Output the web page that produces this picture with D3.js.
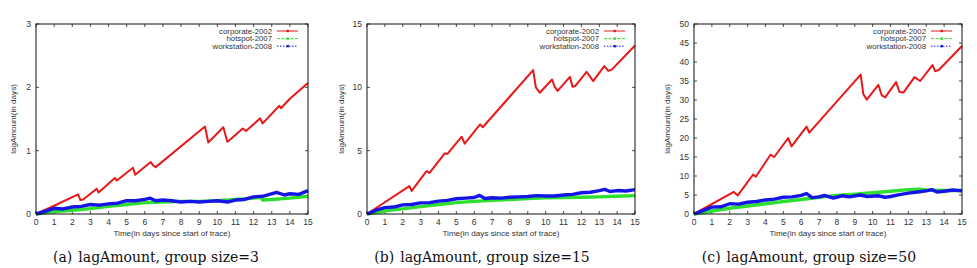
<!DOCTYPE html>
<html>
<head>
  <meta charset="utf-8">
  <script src="https://d3js.org/d3.v7.min.js"></script>
  <style>
    body { margin: 0; background: #fff; }
    svg { display: block; }
    .tick-label { font-family: "Liberation Sans", Arial, sans-serif; font-size: 8.5px; fill: #333; }
    .axis-title { font-family: "Liberation Sans", Arial, sans-serif; font-size: 8.1px; fill: #333; }
    .legend-text { font-family: "Liberation Sans", Arial, sans-serif; font-size: 7.8px; fill: #333; }
    .caption { font-family: "DejaVu Serif", serif; font-size: 14px; fill: #111; }
  </style>
</head>
<body>
  <div id="chart"></div>

  <script>
    // series names (legend order)
    const seriesNames = ["corporate-2002", "hotspot-2007", "workstation-2008"];
    const xTicks = d3.range(0, 16);

    // group size = 3  ([day, lag in days])
    const corp3 = [[0,0],[1,0.13],[2.32,0.31],[2.45,0.22],[2.6,0.23],[3.35,0.40],[3.45,0.34],[4.35,0.57],[4.45,0.53],[4.6,0.56],[5.35,0.73],[5.47,0.62],[6.33,0.82],[6.45,0.77],[6.6,0.74],[9.32,1.38],[9.5,1.13],[10.33,1.37],[10.55,1.14],[10.65,1.16],[11.4,1.35],[11.58,1.31],[12.36,1.51],[12.5,1.43],[13.42,1.71],[13.51,1.67],[14,1.82],[15,2.07]];
    const hot3 = [[0,0],[0.5,0.02],[1,0.04],[2,0.06],[3,0.085],[4,0.12],[5,0.15],[6,0.18],[7,0.19],[8,0.2],[9,0.2],[10,0.21],[11,0.23],[12,0.25],[12.4,0.265],[12.5,0.22],[13,0.23],[14,0.25],[15,0.28]];
    const work3 = [[0,0],[0.5,0.04],[1,0.09],[1.5,0.08],[2,0.11],[2.5,0.12],[3,0.15],[3.5,0.14],[4,0.16],[4.5,0.17],[5,0.21],[5.5,0.21],[6,0.23],[6.3,0.25],[6.6,0.21],[7,0.22],[7.5,0.21],[8,0.19],[8.5,0.2],[9,0.19],[9.5,0.2],[10,0.21],[10.6,0.19],[11,0.22],[11.5,0.23],[12,0.27],[12.5,0.28],[13.27,0.34],[13.7,0.3],[14,0.32],[14.5,0.31],[15,0.37]];

    // group size = 15
    const corp15 = [[0,0],[2.37,2.2],[2.5,1.82],[3.33,3.38],[3.5,3.25],[4.35,4.78],[4.5,4.75],[5.3,6.1],[5.47,5.55],[6.33,7.07],[6.48,6.85],[9.3,11.36],[9.45,10.0],[9.67,9.57],[10.36,10.62],[10.5,10.05],[10.67,9.72],[11.36,10.83],[11.5,10.04],[11.65,10.1],[12.29,11.23],[12.66,10.49],[13.28,11.68],[13.5,11.3],[13.7,11.4],[15,13.3]];
    const hot15 = [[0,0],[0.5,0.12],[1,0.25],[2,0.4],[3,0.58],[4,0.75],[5,0.9],[6,1.0],[7,1.08],[8,1.15],[9,1.22],[10,1.27],[11,1.3],[12,1.32],[13,1.35],[14,1.4],[15,1.45]];
    const work15 = [[0,0],[0.5,0.3],[1,0.5],[1.5,0.55],[2,0.72],[2.5,0.75],[3,0.88],[3.5,0.9],[4,1.02],[4.5,1.08],[5,1.2],[5.5,1.25],[6,1.3],[6.3,1.47],[6.6,1.22],[7,1.28],[7.5,1.25],[8,1.32],[8.5,1.35],[9,1.38],[9.5,1.45],[10,1.42],[10.5,1.42],[11,1.5],[11.5,1.55],[12,1.68],[12.5,1.72],[13,1.85],[13.3,1.95],[13.6,1.78],[14,1.85],[14.5,1.82],[15,1.92]];

    // group size = 50
    const corp50 = [[0,0],[2.23,5.8],[2.45,4.9],[3.31,10.4],[3.46,9.8],[4.28,15.6],[4.49,15.0],[5.27,20.0],[5.46,17.8],[6.3,23.0],[6.45,21.4],[9.33,36.7],[9.48,31.5],[9.67,30.1],[10.32,34.0],[10.5,31.3],[10.7,30.7],[11.31,34.7],[11.5,32.1],[11.73,32.0],[12.34,36.0],[12.66,35.0],[13.35,39.2],[13.5,37.6],[13.7,37.9],[15,44.2]];
    const hot50 = [[0,0],[0.5,0.4],[1,0.8],[2,1.5],[3,2.1],[4,2.7],[5,3.3],[6,3.8],[7,4.4],[8,4.9],[9,5.2],[10,5.6],[11,6.0],[12,6.4],[12.6,6.5],[13,6.3],[14,6.2],[15,6.2]];
    const work50 = [[0,0],[0.5,0.9],[1,1.8],[1.5,1.9],[2,2.7],[2.5,2.6],[3,3.1],[3.5,3.3],[4,3.7],[4.5,3.9],[5,4.4],[5.5,4.5],[6,4.9],[6.3,5.4],[6.6,4.3],[7,4.5],[7.3,4.9],[7.8,4.2],[8.3,4.8],[8.7,4.5],[9.3,5.0],[9.7,4.6],[10.3,4.8],[10.7,4.4],[11,4.6],[11.5,5.1],[12,5.5],[12.5,5.8],[13,6.1],[13.3,6.4],[13.6,5.8],[14,6.0],[14.5,6.3],[15,6.1]];

    // y tick labels per panel
    const yTicks3 = [0, 1, 2, 3];
    const yTicks15 = [0, 5, 10, 15];
    const yTicks50 = d3.range(0, 55, 5);

    const captions = ["(a)", "(b)", "(c)"];
    const captionText = ["lagAmount, group size=3", "lagAmount, group size=15", "lagAmount, group size=50"];

    const colors = ["#e81818", "#2ee02e", "#1515e8"];
    const widths = [2, 3.4, 3.4];

    const svg = d3.select("#chart").append("svg")
      .attr("width", 977)
      .attr("height", 268);

    // frame boxes for the three panels (pixels)
    const panels = [
      { left: 36,  right: 308, series: [corp3, hot3, work3],    yMax: 3,  yTicks: yTicks3,  yTitleX: 13,  capX: 156 },
      { left: 367, right: 635, series: [corp15, hot15, work15], yMax: 15, yTicks: yTicks15, yTitleX: 341, capX: 482 },
      { left: 694, right: 962, series: [corp50, hot50, work50], yMax: 50, yTicks: yTicks50, yTitleX: 667, capX: 809 }
    ];
    const plotTop = 24, plotBottom = 214;

    panels.forEach((p, pi) => {
      const g = svg.append("g");
      const x = d3.scaleLinear().domain([0, 15]).range([p.left, p.right]);
      const y = d3.scaleLinear().domain([0, p.yMax]).range([plotBottom, plotTop]);

      // inward ticks on all four sides
      xTicks.forEach(t => {
        g.append("line").attr("x1", x(t)).attr("x2", x(t)).attr("y1", plotBottom).attr("y2", plotBottom - 3).attr("stroke", "#222").attr("stroke-width", 0.8);
        g.append("line").attr("x1", x(t)).attr("x2", x(t)).attr("y1", plotTop).attr("y2", plotTop + 3).attr("stroke", "#222").attr("stroke-width", 0.8);
        g.append("text").attr("class", "tick-label")
          .attr("x", x(t)).attr("y", plotBottom + 11)
          .attr("text-anchor", "middle").text(t);
      });
      p.yTicks.forEach(t => {
        g.append("line").attr("x1", p.left).attr("x2", p.left + 3).attr("y1", y(t)).attr("y2", y(t)).attr("stroke", "#222").attr("stroke-width", 0.8);
        g.append("line").attr("x1", p.right).attr("x2", p.right - 3).attr("y1", y(t)).attr("y2", y(t)).attr("stroke", "#222").attr("stroke-width", 0.8);
        g.append("text").attr("class", "tick-label")
          .attr("x", p.left - 5).attr("y", y(t) + 3)
          .attr("text-anchor", "end").text(t);
      });

      // data lines
      const line = d3.line().x(d => x(d[0])).y(d => y(d[1]));
      g.append("g")
        .selectAll("path")
        .data(p.series)
        .join("path")
        .attr("d", line)
        .attr("fill", "none")
        .attr("stroke", (d, i) => colors[i])
        .attr("stroke-width", (d, i) => widths[i])
        .attr("stroke-linejoin", "round");

      // frame
      g.append("rect")
        .attr("x", p.left).attr("y", plotTop)
        .attr("width", p.right - p.left).attr("height", plotBottom - plotTop)
        .attr("fill", "none").attr("stroke", "#111").attr("stroke-width", 1);

      // legend
      const dash = [null, "3,1.5", "1.5,1.5"];
      seriesNames.forEach((name, i) => {
        const ly = 31 + i * 7.6;
        g.append("text").attr("class", "legend-text")
          .attr("x", p.right - 36).attr("y", ly + 2.7)
          .attr("text-anchor", "end").text(name);
        g.append("line")
          .attr("x1", p.right - 31).attr("x2", p.right - 10)
          .attr("y1", ly).attr("y2", ly)
          .attr("stroke", colors[i]).attr("stroke-width", 1)
          .attr("stroke-dasharray", dash[i]);
        g.append("rect")
          .attr("x", p.right - 21.5).attr("y", ly - 1.2)
          .attr("width", 2.4).attr("height", 2.4)
          .attr("fill", colors[i]);
      });

      // axis titles
      g.append("text").attr("class", "axis-title")
        .attr("x", (p.left + p.right) / 2).attr("y", 236)
        .attr("text-anchor", "middle")
        .text("Time(in days since start of trace)");
      g.append("text").attr("class", "axis-title")
        .attr("transform", `translate(${p.yTitleX + 3},${(plotTop + plotBottom) / 2}) rotate(-90)`)
        .attr("text-anchor", "middle")
        .text("lagAmount(in days)");

      // caption under the panel
      const cap = g.append("text").attr("class", "caption")
        .attr("x", p.capX).attr("y", 262)
        .attr("text-anchor", "middle");
      cap.append("tspan").text(captions[pi]);
      cap.append("tspan").attr("dx", 6).text(captionText[pi]);
    });
  </script>
</body>
</html>
